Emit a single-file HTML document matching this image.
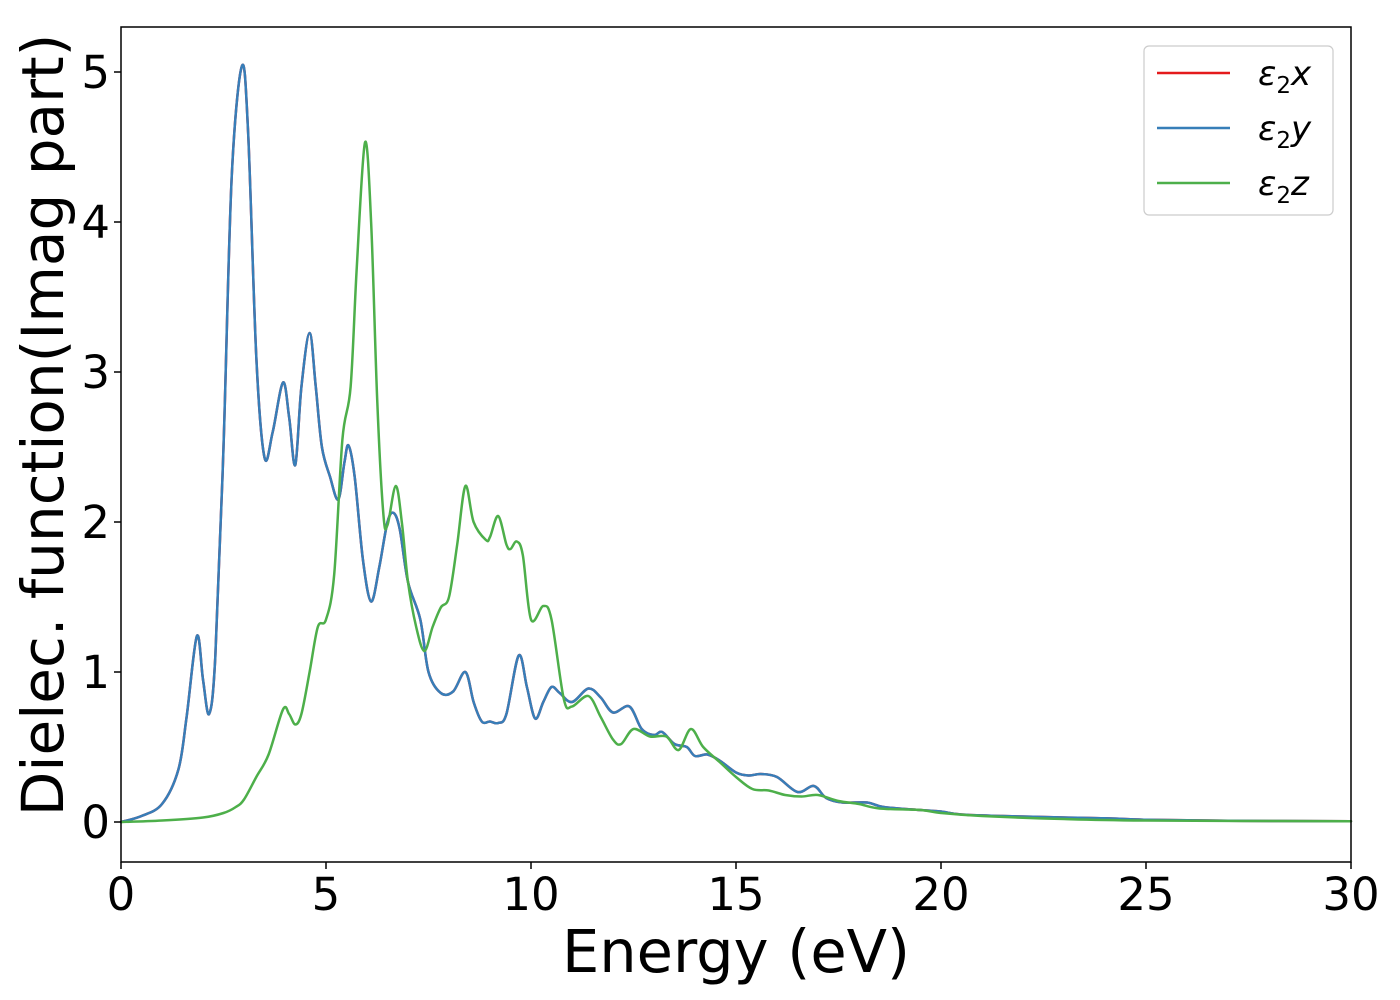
<!DOCTYPE html>
<html><head><meta charset="utf-8"><style>html,body{margin:0;padding:0;background:#fff}svg{display:block}text{font-family:"DejaVu Sans","Liberation Sans",sans-serif}</style></head>
<body>
<svg width="1400" height="1000" viewBox="0 0 1400 1000" xmlns="http://www.w3.org/2000/svg">
<rect width="1400" height="1000" fill="#fff"/>
<g fill="none" stroke-linejoin="round" stroke-linecap="round">
<path id="pr" stroke="#e41a1c" stroke-width="2.5"/>
<path id="pb" stroke="#377eb8" stroke-width="2.5"/>
<path id="pg" stroke="#4daf4a" stroke-width="2.5"/>
</g>
<rect x="121" y="27" width="1230" height="835" fill="none" stroke="#000" stroke-width="1.5"/>
<g stroke="#000" stroke-width="1.5">
<line x1="121" y1="862" x2="121" y2="869"/><line x1="326" y1="862" x2="326" y2="869"/><line x1="531" y1="862" x2="531" y2="869"/><line x1="736" y1="862" x2="736" y2="869"/><line x1="941" y1="862" x2="941" y2="869"/><line x1="1146" y1="862" x2="1146" y2="869"/><line x1="1351" y1="862" x2="1351" y2="869"/>
<line x1="114" y1="822" x2="121" y2="822"/><line x1="114" y1="672" x2="121" y2="672"/><line x1="114" y1="522" x2="121" y2="522"/><line x1="114" y1="372" x2="121" y2="372"/><line x1="114" y1="222" x2="121" y2="222"/><line x1="114" y1="72" x2="121" y2="72"/>
</g>
<g font-size="45" text-anchor="middle" fill="#000">
<text x="121" y="910">0</text><text x="326" y="910">5</text><text x="531" y="910">10</text><text x="736" y="910">15</text><text x="941" y="910">20</text><text x="1146" y="910">25</text><text x="1351" y="910">30</text>
</g>
<g font-size="45" text-anchor="end" fill="#000">
<text x="110" y="838">0</text><text x="110" y="688">1</text><text x="110" y="538">2</text><text x="110" y="388">3</text><text x="110" y="238">4</text><text x="110" y="88">5</text>
</g>
<text x="736" y="972" font-size="59" text-anchor="middle">Energy (eV)</text>
<text transform="translate(63,425) rotate(-90)" font-size="58" text-anchor="middle">Dielec. function(Imag part)</text>
<rect x="1144" y="46" width="189" height="169" rx="5" fill="#fff" stroke="#ccc" stroke-width="1.2"/>
<line x1="1157" y1="73" x2="1230" y2="73" stroke="#e41a1c" stroke-width="2.5"/>
<line x1="1157" y1="128" x2="1230" y2="128" stroke="#377eb8" stroke-width="2.5"/>
<line x1="1157" y1="183" x2="1230" y2="183" stroke="#4daf4a" stroke-width="2.5"/>
<g font-size="34" font-style="italic" fill="#000">
<text x="1258" y="85">ε<tspan font-size="23" font-style="normal" dy="8">2</tspan><tspan dy="-8">x</tspan></text>
<text x="1258" y="140">ε<tspan font-size="23" font-style="normal" dy="8">2</tspan><tspan dy="-8">y</tspan></text>
<text x="1258" y="195">ε<tspan font-size="23" font-style="normal" dy="8">2</tspan><tspan dy="-8">z</tspan></text>
</g>
</svg>
<script>
var B=[0,0,0.5,0.04,1,0.12,1.4,0.35,1.6,0.7,1.85,1.24,2.0,0.95,2.15,0.72,2.3,1.1,2.5,2.5,2.7,4.3,2.95,5.04,3.1,4.6,3.3,3.1,3.5,2.43,3.7,2.6,3.95,2.93,4.1,2.7,4.25,2.38,4.4,2.9,4.6,3.26,4.75,2.9,4.9,2.5,5.1,2.3,5.3,2.15,5.45,2.4,5.55,2.51,5.7,2.3,5.9,1.75,6.1,1.47,6.3,1.7,6.5,2.0,6.65,2.06,6.8,1.95,7.0,1.6,7.3,1.35,7.5,1.0,7.8,0.86,8.1,0.87,8.4,1.0,8.6,0.8,8.8,0.67,9.0,0.67,9.2,0.66,9.4,0.72,9.7,1.11,9.9,0.9,10.1,0.69,10.3,0.8,10.5,0.9,10.7,0.86,11.0,0.8,11.4,0.89,11.7,0.83,12.0,0.73,12.4,0.77,12.7,0.62,13.0,0.58,13.2,0.6,13.5,0.52,13.8,0.5,14.0,0.44,14.3,0.45,14.6,0.41,15.0,0.33,15.3,0.31,15.6,0.32,16.0,0.3,16.5,0.2,16.9,0.24,17.2,0.16,17.6,0.13,18.2,0.13,18.6,0.1,19.5,0.08,20.0,0.07,20.5,0.05,21.5,0.04,23,0.03,24,0.025,25,0.015,27,0.008,30,0.005];
var G=[0,0,1,0.01,2,0.03,2.5,0.06,2.8,0.1,3.0,0.15,3.3,0.3,3.6,0.45,3.95,0.75,4.1,0.72,4.25,0.65,4.4,0.72,4.6,1.0,4.8,1.3,5.0,1.35,5.2,1.65,5.4,2.55,5.6,2.9,5.75,3.7,5.95,4.53,6.1,4.0,6.25,2.8,6.4,2.05,6.5,1.98,6.7,2.24,6.85,2.0,7.0,1.6,7.2,1.3,7.4,1.14,7.6,1.3,7.8,1.43,8.0,1.5,8.2,1.85,8.4,2.24,8.6,2.0,8.9,1.88,9.0,1.9,9.2,2.04,9.4,1.85,9.5,1.82,9.65,1.87,9.8,1.78,10.0,1.35,10.3,1.44,10.5,1.35,10.8,0.82,11.0,0.77,11.4,0.84,11.7,0.7,12.0,0.55,12.2,0.52,12.5,0.62,12.9,0.57,13.3,0.57,13.6,0.48,13.9,0.62,14.2,0.5,14.6,0.4,15.0,0.3,15.4,0.22,15.8,0.21,16.2,0.18,16.6,0.17,17.0,0.18,17.5,0.14,18.0,0.12,18.5,0.09,19.5,0.08,20.0,0.06,21,0.04,23,0.02,25,0.01,30,0.005];
function path(a){var p=[];for(var i=0;i<a.length;i+=2)p.push([121+a[i]*41,822-a[i+1]*150]);
var d="M"+p[0][0].toFixed(1)+","+p[0][1].toFixed(1);
for(var i=0;i<p.length-1;i++){var p0=p[Math.max(i-1,0)],p1=p[i],p2=p[i+1],p3=p[Math.min(i+2,p.length-1)];
var c1=[p1[0]+(p2[0]-p0[0])/6,p1[1]+(p2[1]-p0[1])/6],c2=[p2[0]-(p3[0]-p1[0])/6,p2[1]-(p3[1]-p1[1])/6];
d+="C"+c1[0].toFixed(1)+","+c1[1].toFixed(1)+" "+c2[0].toFixed(1)+","+c2[1].toFixed(1)+" "+p2[0].toFixed(1)+","+p2[1].toFixed(1);}
return d;}
document.getElementById("pr").setAttribute("d",path(B));
document.getElementById("pb").setAttribute("d",path(B));
document.getElementById("pg").setAttribute("d",path(G));
</script>
</body></html>
